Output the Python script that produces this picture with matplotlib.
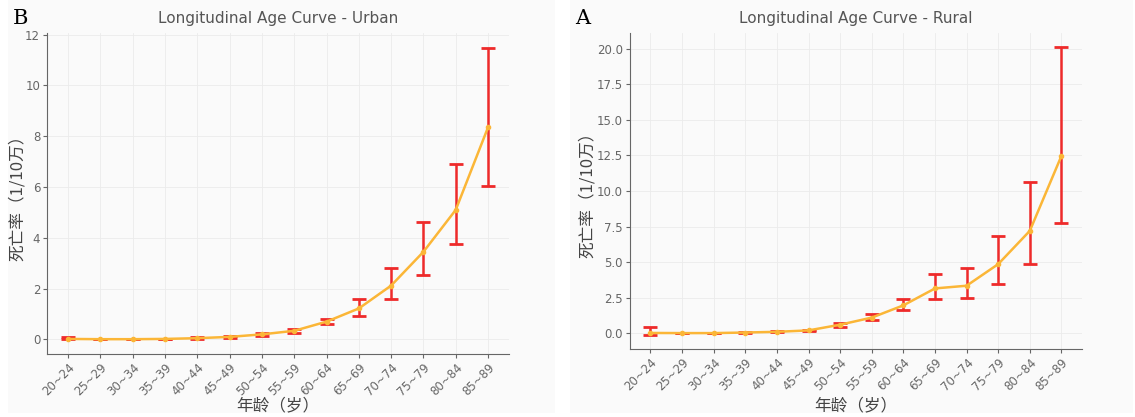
import matplotlib.pyplot as plt
from matplotlib.patches import Rectangle

plt.rcParams['font.family'] = ['DejaVu Sans', 'Noto Sans CJK SC']

# 年龄组
ages = ['20~24', '25~29', '30~34', '35~39', '40~44', '45~49', '50~54',
        '55~59', '60~64', '65~69', '70~74', '75~79', '80~84', '85~89']

# 城市：死亡率及95%CI
urban_rate = [0.02, 0.01, 0.01, 0.02, 0.05, 0.10, 0.20, 0.34, 0.70, 1.22, 2.12, 3.45, 5.10, 8.35]
urban_low = [0.00, 0.00, 0.00, 0.01, 0.03, 0.07, 0.15, 0.27, 0.59, 0.94, 1.60, 2.55, 3.76, 6.04]
urban_high = [0.08, 0.03, 0.02, 0.03, 0.08, 0.13, 0.25, 0.42, 0.82, 1.60, 2.82, 4.63, 6.90, 11.49]

# 农村：死亡率及95%CI
rural_rate = [0.02, 0.01, 0.01, 0.05, 0.10, 0.20, 0.60, 1.10, 1.96, 3.15, 3.34, 4.86, 7.20, 12.47]
rural_low = [-0.10, 0.00, 0.00, 0.02, 0.07, 0.15, 0.47, 0.93, 1.61, 2.40, 2.47, 3.43, 4.88, 7.73]
rural_high = [0.44, 0.04, 0.03, 0.08, 0.15, 0.26, 0.72, 1.35, 2.40, 4.13, 4.56, 6.87, 10.60, 20.10]

bg = '#fafafa'
fig = plt.figure(figsize=(11.35, 4.17), dpi=100, facecolor='white')
fig.patches.append(Rectangle((0.007, 0.01), 0.482, 0.99, transform=fig.transFigure,
                             facecolor=bg, edgecolor='none', zorder=-1))
fig.patches.append(Rectangle((0.502, 0.01), 0.496, 0.99, transform=fig.transFigure,
                             facecolor=bg, edgecolor='none', zorder=-1))

ax1 = fig.add_axes([0.0415, 0.151, 0.407, 0.770])
ax2 = fig.add_axes([0.5550, 0.163, 0.3983, 0.758])


def draw(ax, rate, low, high, title, ticks):
    x = list(range(len(ages)))
    err = [[r - l for r, l in zip(rate, low)], [h - r for r, h in zip(rate, high)]]
    ax.errorbar(x, rate, yerr=err, fmt='none', ecolor='#ee2a2a', elinewidth=1.8,
                capsize=5, capthick=2, zorder=2)
    ax.plot(x, rate, color='#fbb637', lw=1.8, marker='o', ms=3, zorder=3)
    ax.set_facecolor(bg)
    ax.set_xticks(x)
    ax.set_xticklabels(ages, rotation=45, ha='right', rotation_mode='anchor')
    ax.set_yticks(ticks)
    ax.tick_params(colors='#666666', labelsize=8.5, length=3, pad=2)
    for s in ['top', 'right']:
        ax.spines[s].set_visible(False)
    for s in ['left', 'bottom']:
        ax.spines[s].set_color('#666666')
    ax.grid(True, color='#ebebeb', lw=0.6)
    ax.set_axisbelow(True)
    ax.set_title(title, color='#555555', fontsize=11, pad=7)
    ax.set_xlabel('年龄（岁）', family=['Noto Sans CJK SC'], fontsize=12, color='#444444')
    ax.set_ylabel('死亡率（1/10万）', family=['Noto Sans CJK SC'], fontsize=12, color='#444444')


draw(ax1, urban_rate, urban_low, urban_high, 'Longitudinal Age Curve - Urban',
     [0, 2, 4, 6, 8, 10, 12])
ax1.set_yticklabels(['0', '2', '4', '6', '8', '10', '12'])
ax1.yaxis.set_label_coords(-0.045, 0.5)
ax1.xaxis.set_label_coords(0.5, -0.135)

draw(ax2, rural_rate, rural_low, rural_high, 'Longitudinal Age Curve - Rural',
     [0, 2.5, 5, 7.5, 10, 12.5, 15, 17.5, 20])
ax2.set_yticklabels(['0.0', '2.5', '5.0', '7.5', '10.0', '12.5', '15.0', '17.5', '20.0'])
ax2.yaxis.set_label_coords(-0.075, 0.5)
ax2.xaxis.set_label_coords(0.5, -0.152)

fig.text(0.011, 0.955, 'B', family='DejaVu Serif', fontsize=15, va='center')
fig.text(0.507, 0.955, 'A', family='DejaVu Serif', fontsize=15, va='center')

fig.savefig('out.png', dpi=100, facecolor=fig.get_facecolor())
